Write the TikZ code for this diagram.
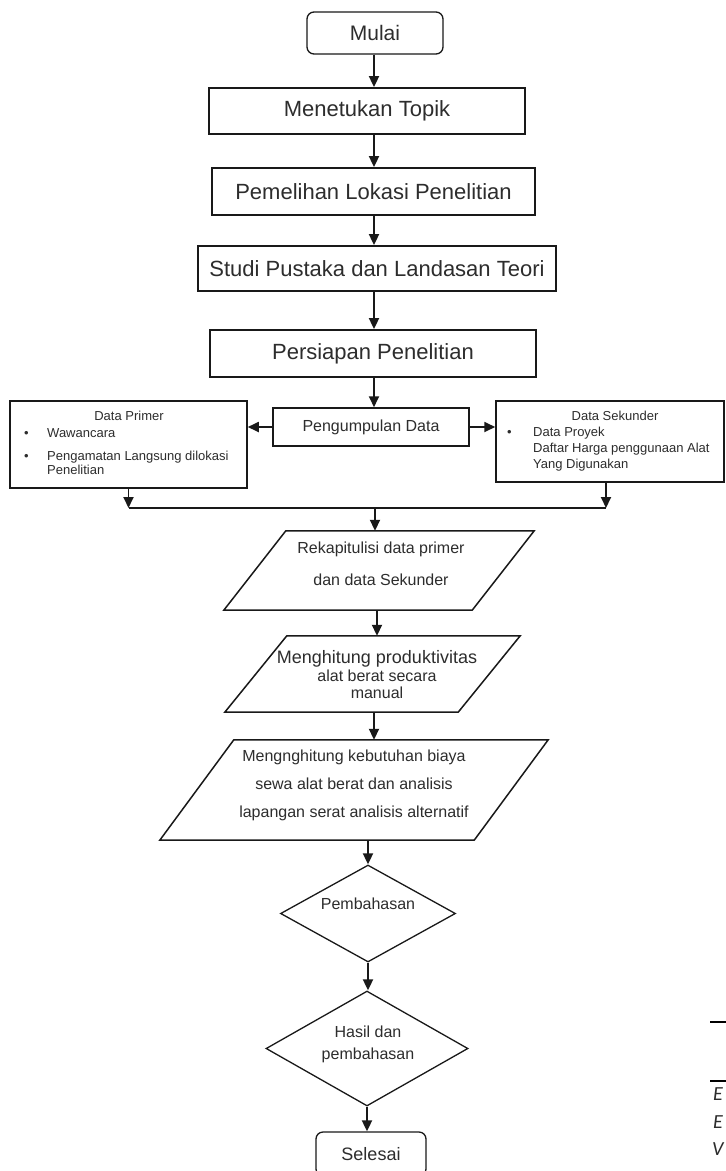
\documentclass[tikz,border=0pt]{standalone}
\usepackage{fontspec}
\setmainfont{Liberation Sans}
\newfontfamily\potongan{Carlito}
\usetikzlibrary{shapes.geometric, positioning, arrows.meta}
\definecolor{GarisColor}{RGB}{25,25,25}
\definecolor{TeksColor}{RGB}{45,45,45}
\tikzset{
  kotak/.style={rectangle, draw=GarisColor, line width=1.8pt, text=TeksColor, inner sep=0pt, font=\fontsize{22}{26}\selectfont},
  kotakbulat/.style={kotak, rounded corners=7pt, line width=1.3pt},
  kotakkecil/.style={rectangle, draw=GarisColor, line width=1.5pt, inner sep=0pt},
  bidang/.style={rectangle, draw=none, inner sep=0pt},
  jajar/.style={draw=GarisColor, line width=1.5pt, line join=miter},
  belah/.style={diamond, draw=GarisColor, line width=1.3pt, inner sep=0pt},
  teks/.style={text=TeksColor, inner sep=0pt, align=center, font=\fontsize{16}{19}\selectfont},
  teksdaftar/.style={text=TeksColor, inner sep=0pt, align=left, font=\fontsize{13}{14}\selectfont},
  panah/.style={-{Triangle[length=11pt,width=10pt]}, line width=1.8pt, GarisColor},
  garis/.style={line width=1.8pt, GarisColor}
}
% jajaran genjang di atas node persegi yang tak terlihat
\newcommand{\garisjajar}[2]{%
  \draw[jajar] (#1.south west) -- ([xshift=#2]#1.north west) -- (#1.north east)
    -- ([xshift=-#2]#1.south east) -- cycle;%
}

\begin{document}
\begin{tikzpicture}[x=1pt, y=-1pt]
  \fill[white] (0,0) rectangle (726,1171);
  \useasboundingbox (0,0) rectangle (726,1171);
  \coordinate (poros) at (374,0);

  % Alur utama
  \node[kotakbulat, minimum width=136, minimum height=42, font=\fontsize{21}{25}\selectfont] (mulai) at (375,33) {Mulai};
  \node[kotak, minimum width=316, minimum height=46] (topik) at (367,111) {Menetukan Topik};
  \node[kotak, minimum width=323, minimum height=47] (lokasi) at (373.5,191.5) {Pemelihan Lokasi Penelitian};
  \node[kotak, minimum width=358, minimum height=45] (pustaka) at (377,268.5) {Studi Pustaka dan Landasan Teori};
  \node[kotak, minimum width=326, minimum height=47] (persiapan) at (373,353.5) {Persiapan Penelitian};
  \node[kotak, minimum width=196, minimum height=38, line width=1.5pt, font=\fontsize{16}{19}\selectfont] (kumpul) at (371,427) {Pengumpulan Data};

  % Data primer
  \node[kotakkecil, minimum width=237, minimum height=87] (primer) at (128.5,444.5) {};
  \node[teks, font=\fontsize{13}{15}\selectfont] (judulprimer) at (129,416) {Data Primer};
  \node[teksdaftar, anchor=north west] (isiprimer) at (24,428)
    {\makebox[23pt][l]{•}Wawancara\\[9pt]\makebox[23pt][l]{•}Pengamatan Langsung dilokasi\\\hspace*{23pt}Penelitian};

  % Data sekunder
  \node[kotakkecil, minimum width=228, minimum height=81] (sekunder) at (610,441.5) {};
  \node[teks, font=\fontsize{13}{15}\selectfont] (judulsekunder) at (615,416) {Data Sekunder};
  \node[teksdaftar, anchor=north west, font=\fontsize{13}{16}\selectfont] (isisekunder) at (507,427)
    {\makebox[26pt][l]{•}Data Proyek\\\hspace*{26pt}Daftar Harga penggunaan Alat\\\hspace*{26pt}Yang Digunakan};

  % Proses olah data
  \node[bidang, minimum width=310, minimum height=79] (rekap) at (379,570.5) {};
  \garisjajar{rekap}{62pt}
  \node[teks] (teksrekap) at (381,564) {Rekapitulisi data primer\\[13pt]dan data Sekunder};
  \node[bidang, minimum width=295, minimum height=76] (hitung) at (372.5,674) {};
  \garisjajar{hitung}{62pt}
  \node[teks, font=\fontsize{16}{17.5}\selectfont] (tekshitung) at (377,675) {{\fontsize{18}{17.5}\selectfont Menghitung produktivitas}\\alat berat secara\\manual};
  \node[bidang, minimum width=388, minimum height=100] (biaya) at (354,790) {};
  \garisjajar{biaya}{74pt}
  \node[teks, font=\fontsize{16}{28}\selectfont] (teksbiaya) at (354,785) {Mengnghitung kebutuhan biaya\\sewa alat berat dan analisis\\lapangan serat analisis alternatif};

  % Pembahasan dan akhir
  \node[belah, minimum width=175, minimum height=97] (pembahasan) at (368,913.5) {};
  \node[teks] (tekspembahasan) at (368,904) {Pembahasan};
  \node[belah, minimum width=202, minimum height=115] (hasil) at (367,1048.5) {};
  \node[teks, font=\fontsize{16}{22}\selectfont] (tekshasil) at (368,1044) {Hasil dan\\pembahasan};
  \node[kotakbulat, minimum width=110, minimum height=44, font=\fontsize{18}{22}\selectfont] (selesai) at (371,1154) {Selesai};

  % Panah
  \draw[panah] (poros |- mulai.south) -- (poros |- topik.north);
  \draw[panah] (poros |- topik.south) -- (poros |- lokasi.north);
  \draw[panah] (poros |- lokasi.south) -- (poros |- pustaka.north);
  \draw[panah] (poros |- pustaka.south) -- (poros |- persiapan.north);
  \draw[panah] (poros |- persiapan.south) -- (poros |- kumpul.north);
  \draw[panah] (kumpul.west) -- (kumpul.west -| primer.east);
  \draw[panah] (kumpul.east) -- (kumpul.east -| sekunder.west);

  % Penggabungan data
  \coordinate (gabung) at (375,508);
  \draw[panah] (primer.south) -- (primer.south |- gabung);
  \draw[panah] ([xshift=-4pt]sekunder.south) -- ([xshift=-4pt]sekunder.south |- gabung);
  \draw[garis] (primer.south |- gabung) -- ([xshift=-4pt]sekunder.south |- gabung);
  \draw[panah] (gabung) -- (gabung |- rekap.north);
  \draw[panah] ([xshift=-2pt]rekap.south) -- ([xshift=-2pt]rekap.south |- hitung.north);
  \draw[panah] (poros |- hitung.south) -- (poros |- biaya.north);
  \draw[panah] (pembahasan.north |- biaya.south) -- (pembahasan.north);
  \draw[panah] (pembahasan.south) -- (pembahasan.south |- hasil.north);
  \draw[panah] (hasil.south) -- (hasil.south |- selesai.north);

  % Potongan halaman di tepi kanan
  \draw[line width=2.5pt] (710,1022) -- (726,1022);
  \draw[line width=2.5pt] (710,1081) -- (726,1081);
  \node[anchor=west, inner sep=0pt, text=TeksColor, font=\potongan\itshape\fontsize{20}{22}\selectfont] (potongansatu) at (713,1094) {E};
  \node[anchor=west, inner sep=0pt, text=TeksColor, font=\potongan\itshape\fontsize{20}{22}\selectfont] (potongandua) at (713,1122) {E};
  \node[anchor=west, inner sep=0pt, text=TeksColor, font=\potongan\itshape\fontsize{20}{22}\selectfont] (potongantiga) at (712,1149) {V};
\end{tikzpicture}
\end{document}
